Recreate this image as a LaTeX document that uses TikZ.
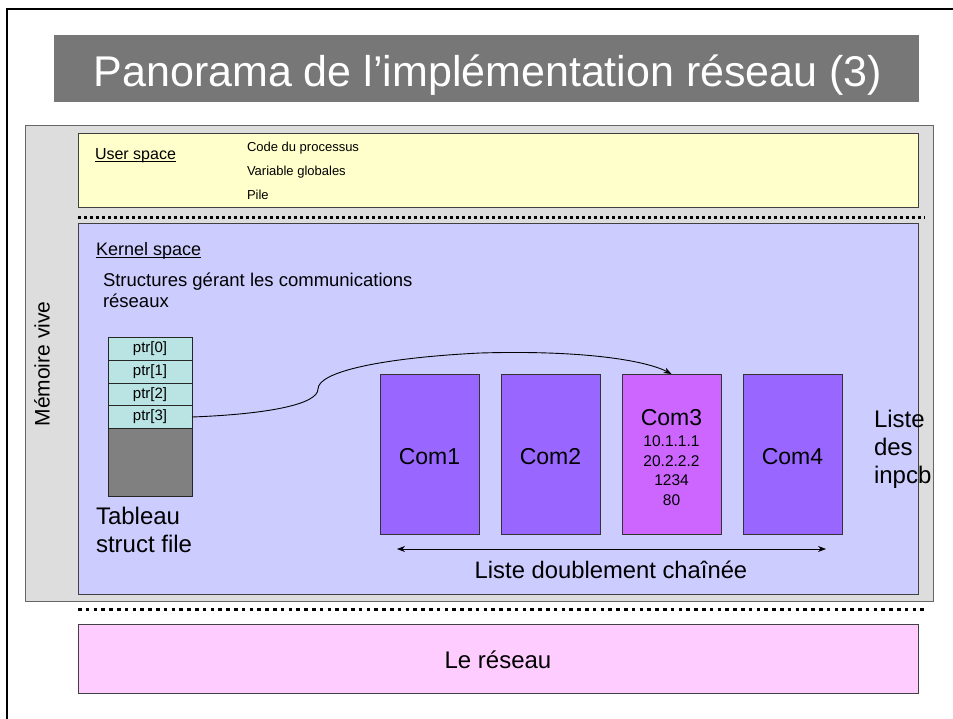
\documentclass[tikz,border=0pt]{standalone}
\usepackage{fontspec}
\setmainfont{Liberation Sans}
\usetikzlibrary{arrows.meta}
\definecolor{titlegray}{RGB}{119,119,119}
\definecolor{memgray}{RGB}{221,221,221}
\definecolor{useryellow}{RGB}{255,255,204}
\definecolor{kernelblue}{RGB}{204,204,255}
\definecolor{netpink}{RGB}{255,204,255}
\definecolor{comviolet}{RGB}{153,102,255}
\definecolor{comthree}{RGB}{204,102,255}
\definecolor{ptrteal}{RGB}{186,227,227}
\definecolor{tabgray}{RGB}{128,128,128}
\newcommand\ulx[2]{\setbox0\hbox{#2}\rlap{\rule[-#1]{\wd0}{1.1pt}}\box0}
\newcommand\fs[1]{\fontsize{#1}{#1}\selectfont}
\tikzset{
  area/.style={anchor=north west, inner sep=0pt, outer sep=0pt, draw=black!75, line width=0.9pt},
  cell/.style={anchor=north west, inner sep=0pt, outer sep=0pt, draw=black!85, line width=0.9pt,
    fill=ptrteal, minimum width=84pt, minimum height=23pt, font=\fs{15}},
  combox/.style={anchor=north west, inner sep=0pt, outer sep=0pt, draw=black!80, line width=0.9pt,
    fill=comviolet, minimum width=99pt, minimum height=160pt},
  txt/.style={inner sep=0pt, outer sep=0pt, anchor=base west},
  sep/.style={line width=3pt},
  tip/.style={-{Stealth[length=8pt,width=6pt]}},
}
\begin{document}
\begin{tikzpicture}[x=1pt,y=-1pt]
\useasboundingbox (0,0) rectangle (953,718);
\fill[white] (0,0) rectangle (953,718);
% slide frame
\draw[line width=2.5pt] (7,719) -- (7,9) -- (954,9);
% title
\node[anchor=north west, inner sep=0pt, fill=titlegray, minimum width=865pt, minimum height=67pt] (titlebox) at (54,35) {};
\node[txt, anchor=base, text=white, font=\fs{43}] (title) at (488,86) {Panorama de l’implémentation réseau (3)};
% memory
\node[area, fill=memgray, draw=black!60, minimum width=908pt, minimum height=476pt] (mem) at (25,125) {};
\node[inner sep=0pt, rotate=90, font=\fs{21}] (memlabel) at (42,364) {Mémoire vive};
% user space
\node[area, fill=useryellow, minimum width=840pt, minimum height=74pt] (user) at (78,133) {};
\node[txt, font=\fs{16}] (userlabel) at (95,159.5) {\ulx{2.6pt}{User space}};
\node[txt, font=\fs{13}] (code) at (247,151.5) {Code du processus};
\node[txt, font=\fs{13}] (vars) at (247,175.5) {Variable globales};
\node[txt, font=\fs{13}] (pile) at (247,199) {Pile};
\draw[sep, dash pattern=on 3.3pt off 2.7pt] (78,217) -- (925,217);
% kernel space
\node[area, fill=kernelblue, minimum width=840pt, minimum height=371pt] (kernel) at (78,223) {};
\node[txt, font=\fs{18}] (kernlabel) at (96,255) {\ulx{2.8pt}{Kernel space}};
\node[txt, font=\fs{18.5}] (struct1) at (103,286) {Structures gérant les communications};
\node[txt, font=\fs{18.5}] (struct2) at (103,307) {réseaux};
% table
\node[cell] (ptr0) at (108,337) {ptr[0]};
\node[cell] (ptr1) at (108,360) {ptr[1]};
\node[cell] (ptr2) at (108,383) {ptr[2]};
\node[cell] (ptr3) at (108,405.5) {ptr[3]};
\node[cell, fill=tabgray, minimum height=68pt] (rest) at (108,428.5) {};
\node[txt, font=\fs{24}] (tab1) at (96,524.5) {Tableau};
\node[txt, font=\fs{24}] (tab2) at (96,552.5) {struct file};
% com boxes
\node[combox] (com1) at (380,374) {};
\node[combox] (com2) at (501,374) {};
\node[combox, fill=comthree] (com3) at (622,374) {};
\node[combox] (com4) at (743,374) {};
\node[txt, anchor=base, font=\fs{23}] (c1) at (com1.center |- 0,464) {Com1};
\node[txt, anchor=base, font=\fs{23}] (c2) at (com2.center |- 0,464) {Com2};
\node[txt, anchor=base, font=\fs{23}] (c4) at (com4.center |- 0,464) {Com4};
\node[txt, anchor=base, font=\fs{23}] (c3) at (com3.center |- 0,425) {Com3};
\node[txt, anchor=base, font=\fs{15.5}] (ip1) at (com3.center |- 0,446.5) {10.1.1.1};
\node[txt, anchor=base, font=\fs{15.5}] (ip2) at (com3.center |- 0,466) {20.2.2.2};
\node[txt, anchor=base, font=\fs{15.5}] (port1) at (com3.center |- 0,485.5) {1234};
\node[txt, anchor=base, font=\fs{15.5}] (port2) at (com3.center |- 0,505) {80};
% pointer curve
\draw[tip, line width=0.9pt] (ptr3.east) .. controls (270,414) and (318,404) .. (318,389)
  .. controls (318,372) and (380,358) .. (480,353)
  .. controls (580,350) and (645,360) .. (com3.north);
% doubly linked list arrow
\coordinate (lla) at (397,549);
\coordinate (llb) at (826,549);
\draw[{Stealth[length=8pt,width=6pt]}-{Stealth[length=8pt,width=6pt]}, line width=0.7pt] (lla) -- (llb);
\node[txt, anchor=base, font=\fs{23.8}] (llabel) at (611,578) {Liste doublement chaînée};
\node[txt, font=\fs{24}] (li1) at (874,427.5) {Liste};
\node[txt, font=\fs{24}] (li2) at (874,455.5) {des};
\node[txt, font=\fs{24}] (li3) at (874,483.5) {inpcb};
% network
\draw[sep, dash pattern=on 3.5pt off 4.3pt] (78,609) -- (925,609);
\node[area, fill=netpink, minimum width=840pt, minimum height=69pt] (net) at (78,624) {};
\node[txt, anchor=base, font=\fs{24}] (netlabel) at (498,668) {Le réseau};
\end{tikzpicture}
\end{document}
